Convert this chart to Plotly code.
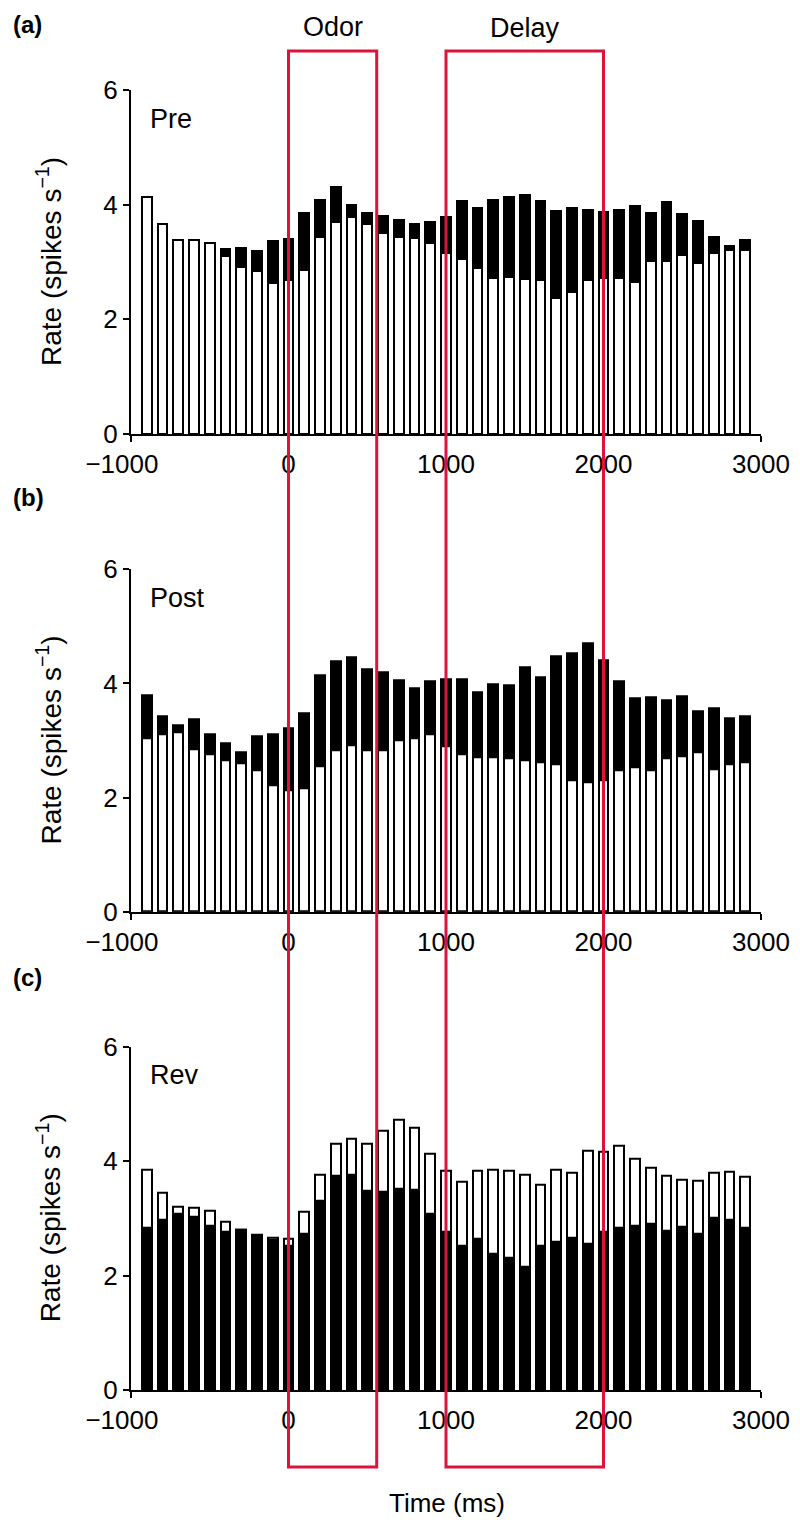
import plotly.graph_objects as go

# ---------------- data ----------------
time_bins = [-900 + 100 * i for i in range(39)]

pre_black = [3.60, 3.27, 3.06, 3.20, 3.12, 3.23, 3.24, 3.20, 3.37, 3.40,
             3.86, 4.08, 4.30, 3.99, 3.86, 3.80, 3.73, 3.66, 3.70, 3.79,
             4.06, 3.95, 4.08, 4.13, 4.16, 4.06, 3.89, 3.94, 3.91, 3.88,
             3.91, 3.97, 3.86, 4.04, 3.83, 3.72, 3.44, 3.28, 3.38]
pre_white = [4.13, 3.66, 3.38, 3.38, 3.33, 3.11, 2.92, 2.84, 2.64, 2.69,
             2.86, 3.44, 3.69, 3.79, 3.66, 3.50, 3.44, 3.41, 3.33, 3.15,
             3.05, 2.90, 2.72, 2.73, 2.70, 2.68, 2.37, 2.48, 2.69, 2.72,
             2.72, 2.65, 3.02, 3.02, 3.13, 2.98, 3.16, 3.21, 3.21]

post_black = [3.80, 3.43, 3.26, 3.37, 3.11, 2.95, 2.79, 3.07, 3.11, 3.21,
              3.48, 4.15, 4.38, 4.45, 4.25, 4.19, 4.05, 3.92, 4.03, 4.08,
              4.07, 3.84, 3.99, 3.97, 4.28, 4.10, 4.47, 4.53, 4.70, 4.40,
              4.03, 3.74, 3.76, 3.70, 3.78, 3.52, 3.56, 3.39, 3.42]
post_white = [3.04, 3.10, 3.15, 2.85, 2.75, 2.66, 2.60, 2.48, 2.21, 2.12,
              2.17, 2.55, 2.83, 2.91, 2.83, 2.82, 3.01, 3.04, 3.11, 2.90,
              2.76, 2.71, 2.71, 2.68, 2.66, 2.62, 2.58, 2.30, 2.27, 2.31,
              2.48, 2.53, 2.47, 2.68, 2.73, 2.79, 2.50, 2.58, 2.62]

rev_white = [3.85, 3.44, 3.20, 3.18, 3.13, 2.94, 2.80, 2.65, 2.67, 2.65,
             3.11, 3.77, 4.30, 4.39, 4.30, 4.53, 4.72, 4.59, 4.13, 3.83,
             3.64, 3.83, 3.85, 3.83, 3.76, 3.58, 3.85, 3.79, 4.18, 4.16,
             4.27, 4.04, 3.88, 3.75, 3.67, 3.65, 3.80, 3.81, 3.72]
rev_black = [2.83, 2.97, 3.08, 3.03, 2.88, 2.76, 2.81, 2.72, 2.62, 2.53,
             2.74, 3.31, 3.74, 3.76, 3.48, 3.47, 3.51, 3.50, 3.08, 2.76,
             2.52, 2.65, 2.38, 2.31, 2.16, 2.52, 2.60, 2.67, 2.55, 2.76,
             2.84, 2.88, 2.91, 2.78, 2.85, 2.74, 3.02, 2.97, 2.84]

panel_names = ["Pre", "Post", "Rev"]
panel_letters = ["(a)", "(b)", "(c)"]
x_ticks = [-1000, 0, 1000, 2000, 3000]
x_ticktext = ["\u22121000\u2002\u2009", "0", "1000", "2000", "3000"]
y_ticks = [0, 2, 4, 6]
odor_window = [0, 560]
delay_window = [1000, 2000]

# ---------------- layout constants ----------------
OFF = 8                      # default body margin of the html page
W, H = 800 - OFF, 1531 - OFF
ML, MR = 131 - OFF, 39
PW = W - ML - MR
FONT = "Liberation Sans, Arial, sans-serif"
RED = "#DC143C"
BAR_W = 62

def py(pix):
    return 1 - (pix - OFF) / H

def px(pix):
    return (pix - OFF - ML) / PW

domains = [(py(434), py(90)), (py(911.7), py(569.3)), (py(1390), py(1046.7))]

fig = go.Figure()

series = [(pre_black, pre_white, "bw"), (post_black, post_white, "bw"), (rev_black, rev_white, "wb")]

for i, (blk, wht, order) in enumerate(series):
    xa = "x" if i == 0 else f"x{i+1}"
    ya = "y" if i == 0 else f"y{i+1}"
    black_tr = go.Bar(x=time_bins, y=blk, width=BAR_W, xaxis=xa, yaxis=ya,
                      marker=dict(color="black", line=dict(color="black", width=2)),
                      showlegend=False, hoverinfo="skip")
    white_tr = go.Bar(x=time_bins, y=wht, width=BAR_W, xaxis=xa, yaxis=ya,
                      marker=dict(color="white", line=dict(color="black", width=2)),
                      showlegend=False, hoverinfo="skip")
    if order == "bw":
        fig.add_trace(black_tr)
        fig.add_trace(white_tr)
    else:
        fig.add_trace(white_tr)
        fig.add_trace(black_tr)

axis_common = dict(showline=True, linecolor="black", linewidth=2, ticks="outside",
                   ticklen=6, tickwidth=2, tickcolor="black", showgrid=False,
                   zeroline=False, tickfont=dict(family=FONT, size=26, color="black"))

layout = dict(width=W, height=H, barmode="overlay", bargap=0,
              plot_bgcolor="white", paper_bgcolor="white",
              margin=dict(l=ML, r=MR, t=0, b=0, pad=0),
              font=dict(family=FONT, color="black"))

annotations = []
for i in range(3):
    xk = "xaxis" if i == 0 else f"xaxis{i+1}"
    yk = "yaxis" if i == 0 else f"yaxis{i+1}"
    xa = "x" if i == 0 else f"x{i+1}"
    ya = "y" if i == 0 else f"y{i+1}"
    layout[xk] = dict(axis_common, domain=[0, 1], range=[-1000, 3000], anchor=ya,
                      tickvals=x_ticks, ticktext=x_ticktext, automargin=False)
    layout[yk] = dict(axis_common, domain=list(domains[i]), range=[0, 6], anchor=xa,
                      tickvals=y_ticks, automargin=False)
    y0, y1 = domains[i]
    annotations.append(dict(text="Rate (spikes s<sup>\u22121</sup>)", xref="paper", yref="paper",
                            x=px(49), y=(y0 + y1) / 2, textangle=-90,
                            showarrow=False, xanchor="center", yanchor="middle",
                            font=dict(family=FONT, size=28, color="black")))
    annotations.append(dict(text=panel_names[i], xref=xa, yref=ya, x=-893, y=5.5,
                            showarrow=False, xanchor="left", yanchor="middle",
                            font=dict(family=FONT, size=27, color="black")))

letter_top = [9, 482, 962]
for i in range(3):
    annotations.append(dict(text=f"<b>{panel_letters[i]}</b>", xref="paper", yref="paper",
                            x=px(11), y=py(letter_top[i]), showarrow=False,
                            xanchor="left", yanchor="top",
                            font=dict(family=FONT, size=24, color="black")))

annotations.append(dict(text="Odor", xref="x", yref="paper", x=sum(odor_window) / 2, y=py(27),
                        showarrow=False, xanchor="center", yanchor="middle",
                        font=dict(family=FONT, size=27, color="black")))
annotations.append(dict(text="Delay", xref="x", yref="paper", x=sum(delay_window) / 2, y=py(28),
                        showarrow=False, xanchor="center", yanchor="middle",
                        font=dict(family=FONT, size=27, color="black")))
annotations.append(dict(text="Time (ms)", xref="paper", yref="paper", x=px(447), y=py(1503),
                        showarrow=False, xanchor="center", yanchor="middle",
                        font=dict(family=FONT, size=26, color="black")))

shapes = []
for win in (odor_window, delay_window):
    shapes.append(dict(type="rect", xref="x", yref="paper", x0=win[0], x1=win[1],
                       y0=py(1467), y1=py(51), line=dict(color=RED, width=3),
                       fillcolor="rgba(0,0,0,0)", layer="above"))

layout["annotations"] = annotations
layout["shapes"] = shapes
fig.update_layout(**layout)

fig.write_html("out.html")
